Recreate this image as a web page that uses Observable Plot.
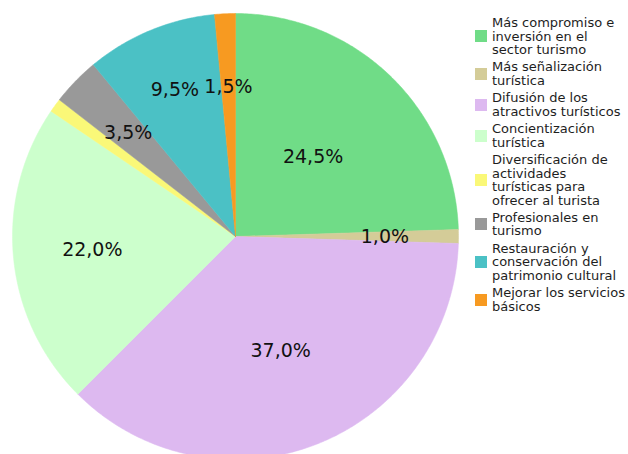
<!DOCTYPE html>
<html>
<head>
<meta charset="utf-8">
<script src="https://cdn.jsdelivr.net/npm/d3@7"></script>
<script src="https://cdn.jsdelivr.net/npm/@observablehq/plot@0.6"></script>
<style>
  html, body { margin: 0; padding: 0; background: #fff; }
  #wrap { position: relative; width: 628px; height: 454px; overflow: hidden; }
  #legend { position: absolute; left: 475px; top: 16px; font-family: "DejaVu Sans", sans-serif; font-size: 13px; color: #1e1e1e; }
  .entry { display: flex; align-items: center; margin-bottom: 3.9px; }
  .sw { width: 12px; height: 12px; margin-right: 5px; flex: none; }
  .lbl { line-height: 13.5px; white-space: pre-line; }
</style>
</head>
<body>
<div id="wrap"><div id="legend"></div></div>
<script>
const categories = [
  "Más compromiso e\ninversión en el\nsector turismo",
  "Más señalización\nturística",
  "Difusión de los\natractivos turísticos",
  "Concientización\nturística",
  "Diversificación de\nactividades\nturísticas para\nofrecer al turista",
  "Profesionales en\nturismo",
  "Restauración y\nconservación del\npatrimonio cultural",
  "Mejorar los servicios\nbásicos"
];
const values = [24.5, 1.0, 37.0, 22.0, 1.0, 3.5, 9.5, 1.5];
const sliceLabels = ["24,5%", "1,0%", "37,0%", "22,0%", "", "3,5%", "9,5%", "1,5%"];
const colors = ["#70dc87", "#d4cc98", "#ddb9f0", "#ccffcc", "#faf878", "#999999", "#4bc1c5", "#f79a21"];

// label radius (fraction of pie radius) by slice size
function labelRadius(v) {
  if (v >= 30) return 0.55;
  if (v >= 24) return 0.5;
  if (v >= 20) return 0.645;
  if (v >= 5) return 0.71;
  return 0.67;
}

// Pie geometry from values
const total = d3.sum(values);
const polys = [];
const labelPts = [];
let acc = 0;
values.forEach((v, i) => {
  const a0 = acc / total * 2 * Math.PI;
  acc += v;
  const a1 = acc / total * 2 * Math.PI;
  const n = Math.max(2, Math.ceil((a1 - a0) / 0.01));
  polys.push({cat: categories[i], x: 0, y: 0});
  for (let k = 0; k <= n; k++) {
    const a = a0 + (a1 - a0) * k / n;
    polys.push({cat: categories[i], x: Math.sin(a), y: Math.cos(a)});
  }
  polys.push({cat: categories[i], x: 0, y: 0});
  const am = (a0 + a1) / 2;
  const f = labelRadius(v);
  labelPts.push({text: sliceLabels[i], x: f * Math.sin(am), y: f * Math.cos(am)});
});

const R = 223, cx = 235, cy = 236, W = 628, H = 454;
const chart = Plot.plot({
  width: W, height: H,
  margin: 0,
  style: {fontFamily: "DejaVu Sans, sans-serif", background: "transparent"},
  x: {domain: [-cx / R, (W - cx) / R], range: [0, W], axis: null},
  y: {domain: [-(H - cy) / R, cy / R], range: [H, 0], axis: null},
  color: {domain: categories, range: colors},
  marks: [
    Plot.line(polys, {x: "x", y: "y", z: "cat", fill: "cat", stroke: "cat", strokeWidth: 0.5, curve: "linear"}),
    Plot.text(labelPts.filter(d => d.text), {x: "x", y: "y", text: "text", fontSize: 19, fill: "#111"})
  ]
});
const wrap = document.getElementById("wrap");
chart.style.position = "absolute";
chart.style.left = "0";
chart.style.top = "0";
wrap.insertBefore(chart, wrap.firstChild);

const legend = document.getElementById("legend");
categories.forEach((c, i) => {
  const e = document.createElement("div");
  e.className = "entry";
  const s = document.createElement("div");
  s.className = "sw";
  s.style.background = colors[i];
  const t = document.createElement("div");
  t.className = "lbl";
  t.textContent = c;
  e.appendChild(s);
  e.appendChild(t);
  legend.appendChild(e);
});
</script>
</body>
</html>
